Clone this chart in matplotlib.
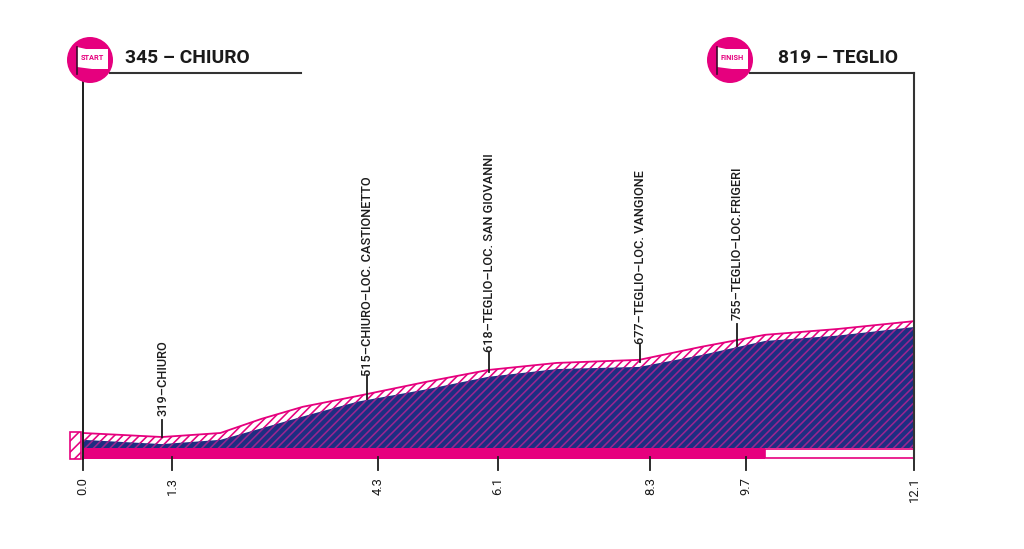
import matplotlib
matplotlib.use("Agg")
import matplotlib.pyplot as plt
from matplotlib.patches import Circle, Polygon, Rectangle

# ---- data ----
profile_km = [0.0, 0.55, 1.15, 2.0, 2.6, 3.2, 4.0, 5.0, 5.9, 6.9, 8.1, 9.0, 9.93, 11.0, 12.1]
profile_elev = [345, 337, 328, 345, 405, 456, 502, 562, 612, 642, 655, 710, 761, 786, 819]
inner_km = [0.0, 1.15, 2.0, 2.6, 3.2, 4.0, 5.0, 5.9, 6.9, 8.1, 9.0, 9.93, 11.0, 12.1]
inner_elev = [316, 298, 316, 365, 415, 478, 530, 583, 616, 625, 675, 735, 758, 794]
tick_pos_km = [0.0, 1.296, 4.295, 6.04, 8.26, 9.65, 12.1]
tick_labels = ["0.0", "1.3", "4.3", "6.1", "8.3", "9.7", "12.1"]
way_km = [1.15, 4.13, 5.91, 8.11, 9.52]
way_elev = [328, 490, 602, 645, 714]
way_top_elev = [400, 590, 688, 720, 805]
way_labels = ["319–CHIURO", "515–CHIURO–LOC. CASTIONETTO", "618–TEGLIO–LOC. SAN GIOVANNI",
              "677–TEGLIO–LOC. VANGIONE", "755–TEGLIO–LOC.FRIGERI"]
way_text_px = [416, 376, 352, 344, 320]
climb_end_km = 9.93
total_km = 12.1
start_title = "345 – CHIURO"
finish_title = "819 – TEGLIO"

# ---- style ----
BLUE = "#1e2e82"
PINK = "#e6007e"
HATCH_ON_BLUE = "#9a2590"
INK = "#1c1c1c"
PX_PER_KM = (914 - 83) / total_km
PX_PER_M = 0.236
BAR_TOP = 345 - (448 - 433) / PX_PER_M
BAR_BOT = 345 - (459 - 433) / PX_PER_M

plt.rcParams["hatch.linewidth"] = 1.15

fig = plt.figure(figsize=(10.24, 5.49), dpi=100, facecolor="white")
ax = fig.add_axes([0, 0, 1, 1])
ax.set_xlim(-83 / PX_PER_KM, (1024 - 83) / PX_PER_KM)
ax.set_ylim(345 - (549 - 433) / PX_PER_M, 345 + 433 / PX_PER_M)
ax.axis("off")

# white strip under the profile line, blue body under it
ax.fill_between(profile_km, BAR_TOP, profile_elev, facecolor="white", edgecolor=PINK,
                hatch="////", linewidth=0, zorder=1)
ax.fill_between(inner_km, BAR_TOP, inner_elev, facecolor=BLUE, edgecolor=HATCH_ON_BLUE,
                hatch="////", linewidth=0, zorder=2)
ax.plot(profile_km, profile_elev, color=PINK, lw=1.3, zorder=3)

# bar along the base
ax.fill_between([0, climb_end_km], BAR_BOT, BAR_TOP, color=PINK, lw=0, zorder=3)
ax.add_patch(Rectangle((climb_end_km, BAR_BOT + 6), total_km - climb_end_km, (BAR_TOP - BAR_BOT) - 10,
                       facecolor="white", edgecolor=PINK, lw=1.2, zorder=3))

# waypoints
for km, e0, e1, lab, ty in zip(way_km, way_elev, way_top_elev, way_labels, way_text_px):
    ax.plot([km, km], [e0, e1], color=INK, lw=1.3, zorder=5)
    ax.text(km + 0.01, 345 + (433 - ty) / PX_PER_M, lab, rotation=90, ha="center", va="bottom",
            fontsize=9.15, family="Roboto", fontweight="medium", color=INK, zorder=6)

# km ticks
for km, lab in zip(tick_pos_km, tick_labels):
    ax.plot([km, km], [BAR_BOT + 10, 345 - (470 - 433) / PX_PER_M], color=INK, lw=1.3, zorder=5)
    ax.text(km, 345 - (477 - 433) / PX_PER_M, lab, rotation=90, ha="center", va="top",
            fontsize=9.4, family="Roboto", color=INK)

# ---- pixel overlay for header decoration ----
ov = fig.add_axes([0, 0, 1, 1], facecolor="none")
ov.set_xlim(0, 1024)
ov.set_ylim(549, 0)
ov.axis("off")

ov.add_patch(Rectangle((70, 432), 11, 27, facecolor="white", edgecolor=PINK, hatch="///", lw=1.2))
ov.plot([83, 83], [80, 459], color=INK, lw=1.4, zorder=6)
ov.plot([914, 914], [73, 459], color="#333333", lw=1.5, zorder=6)
ov.plot([110, 301], [73, 73], color="#333333", lw=1.5)
ov.plot([750, 914], [73, 73], color="#333333", lw=1.5)

for cx, word in [(90, "START"), (730, "FINISH")]:
    ov.add_patch(Circle((cx, 60), 23, facecolor=PINK, edgecolor="none", zorder=7))
    ov.add_patch(Polygon([(cx - 13, 47), (cx - 4, 49), (cx + 18, 49), (cx + 18, 69),
                          (cx + 2, 69), (cx - 13, 67)], facecolor="white", edgecolor="none", zorder=8))
    ov.plot([cx - 13, cx - 13], [47, 74], color="#3a0a2a", lw=1.2, zorder=9)
    ov.text(cx + 2, 58, word, ha="center", va="center", fontsize=5.3, fontweight="bold",
            family="Roboto", color=PINK, zorder=9)

ov.text(125, 58, start_title, ha="left", va="center", fontsize=13.9, fontweight="bold",
        family="Roboto", color="#1a1a1a")
ov.text(778, 58, finish_title, ha="left", va="center", fontsize=13.9, fontweight="bold",
        family="Roboto", color="#1a1a1a")

fig.savefig("out.png", dpi=100)
